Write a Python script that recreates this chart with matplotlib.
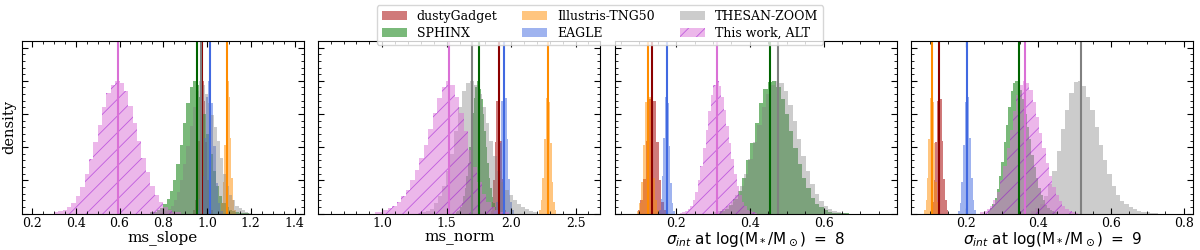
import matplotlib.pyplot as plt
import numpy as np
from matplotlib.ticker import AutoMinorLocator, MultipleLocator

plt.rcParams['font.family'] = 'DejaVu Serif'
plt.rcParams['mathtext.fontset'] = 'dejavusans'
plt.rcParams['hatch.linewidth'] = 0.6

sims = ["dustyGadget", "SPHINX", "Illustris-TNG50", "EAGLE", "THESAN-ZOOM", "This work, ALT"]
fill_cols = ['firebrick', 'forestgreen', 'darkorange', 'royalblue', 'gray', 'orchid']
line_cols = ['darkred', 'darkgreen', 'darkorange', 'royalblue', 'gray', 'orchid']
fill_alpha = [0.6, 0.6, 0.5, 0.5, 0.4, 0.5]

xlabels = ['ms_slope', 'ms_norm',
           r'$\sigma_{int}\ \mathrm{at\ log(M}_*\mathrm{/M}_\odot\mathrm{)\ =\ 8}$',
           r'$\sigma_{int}\ \mathrm{at\ log(M}_*\mathrm{/M}_\odot\mathrm{)\ =\ 9}$']
xlims = [(0.154, 1.441), (0.505, 2.69), (0.034, 0.798), (0.05, 0.826)]
major_steps = [0.2, 0.5, 0.2, 0.2]

# histograms: (low edge, high edge, bin heights normalised to peak) per simulation
# order: dustyGadget, SPHINX, Illustris-TNG50, EAGLE, THESAN-ZOOM, This work ALT
slope_hists = [
    (0.935, 1.025, [0.03, 0.10, 0.26, 0.55, 0.86, 1.00, 0.85, 0.54, 0.25, 0.09, 0.03]),
    (0.74, 1.19, [0.01, 0.015, 0.025, 0.045, 0.07, 0.11, 0.17, 0.25, 0.37, 0.52,
                  0.68, 0.83, 0.95, 1.0, 0.97, 0.88, 0.75, 0.6, 0.45, 0.32,
                  0.21, 0.13, 0.08, 0.05, 0.03, 0.018, 0.01, 0.006, 0.003, 0.002]),
    (1.059, 1.131, [0.02, 0.08, 0.24, 0.52, 0.84, 1.00, 0.88, 0.57, 0.27, 0.10, 0.03]),
    (0.952, 1.072, [0.03, 0.11, 0.28, 0.57, 0.88, 1.00, 0.83, 0.51, 0.23, 0.08, 0.02]),
    (0.78, 1.20, [0.005, 0.01, 0.02, 0.035, 0.06, 0.1, 0.16, 0.25, 0.37, 0.51,
                  0.66, 0.8, 0.92, 1.0, 0.97, 0.9, 0.83, 0.74, 0.65, 0.55,
                  0.42, 0.3, 0.21, 0.14, 0.1, 0.06, 0.04, 0.025, 0.012, 0.006]),
    (0.30, 0.88, [0.01, 0.02, 0.03, 0.05, 0.08, 0.13, 0.20, 0.30, 0.41, 0.54,
                  0.67, 0.80, 0.91, 0.97, 1.00, 0.98, 0.92, 0.81, 0.68, 0.55,
                  0.42, 0.31, 0.21, 0.14, 0.09, 0.05, 0.03, 0.015, 0.01]),
]
norm_hists = [
    (1.84, 1.96, [0.02, 0.09, 0.25, 0.54, 0.85, 1.00, 0.86, 0.55, 0.26, 0.10, 0.03]),
    (1.569, 1.921, [0.008, 0.016, 0.03, 0.05, 0.08, 0.13, 0.19, 0.28, 0.38, 0.50,
                    0.63, 0.76, 0.87, 0.95, 1.0, 0.99, 0.94, 0.86, 0.75, 0.62,
                    0.50, 0.38, 0.27, 0.19, 0.125, 0.08, 0.05, 0.028, 0.016, 0.008]),
    (2.219, 2.351, [0.03, 0.10, 0.27, 0.56, 0.87, 1.00, 0.84, 0.53, 0.24, 0.09, 0.03]),
    (1.87, 2.02, [0.02, 0.09, 0.25, 0.53, 0.85, 1.00, 0.87, 0.56, 0.26, 0.09, 0.03]),
    (1.28, 2.20, [0.005, 0.01, 0.02, 0.035, 0.08, 0.13, 0.21, 0.32, 0.45, 0.62,
                  0.8, 0.92, 0.98, 1.0, 0.97, 0.9, 0.8, 0.68, 0.55, 0.43,
                  0.32, 0.24, 0.18, 0.14, 0.1, 0.07, 0.05, 0.035, 0.02, 0.01]),
    (0.94, 1.98, [0.01, 0.015, 0.025, 0.04, 0.06, 0.09, 0.13, 0.18, 0.25, 0.33,
                  0.42, 0.52, 0.64, 0.76, 0.87, 0.95, 1.0, 0.97, 0.88, 0.76,
                  0.62, 0.48, 0.35, 0.24, 0.15, 0.09, 0.05, 0.03, 0.015, 0.008]),
]
sig8_hists = [
    (0.096, 0.174, [0.03, 0.10, 0.26, 0.55, 0.86, 1.00, 0.85, 0.54, 0.25, 0.09, 0.03]),
    (0.32, 0.67, [0.017, 0.032, 0.062, 0.11, 0.17, 0.27, 0.40, 0.53, 0.68, 0.83,
                  0.94, 0.99, 1.0, 0.95, 0.86, 0.75, 0.62, 0.49, 0.37, 0.265,
                  0.19, 0.12, 0.075, 0.046, 0.026, 0.014, 0.007, 0.004, 0.002, 0.001]),
    (0.094, 0.154, [0.02, 0.08, 0.24, 0.52, 0.84, 1.00, 0.88, 0.57, 0.27, 0.10, 0.03]),
    (0.154, 0.196, [0.03, 0.11, 0.28, 0.57, 0.88, 1.00, 0.83, 0.51, 0.23, 0.08, 0.02]),
    (0.30, 0.66, [0.009, 0.017, 0.031, 0.054, 0.089, 0.14, 0.21, 0.30, 0.41, 0.54,
                  0.67, 0.80, 0.90, 0.97, 1.0, 0.98, 0.92, 0.82, 0.70, 0.56,
                  0.43, 0.32, 0.22, 0.15, 0.097, 0.059, 0.034, 0.019, 0.01, 0.005]),
    (0.21, 0.42, [0.005, 0.01, 0.02, 0.035, 0.06, 0.1, 0.16, 0.25, 0.36, 0.49,
                  0.63, 0.77, 0.89, 0.97, 1.0, 0.96, 0.88, 0.78, 0.66, 0.53,
                  0.41, 0.3, 0.21, 0.14, 0.09, 0.055, 0.03, 0.018, 0.01, 0.005]),
]
sig9_hists = [
    (0.103, 0.151, [0.02, 0.09, 0.25, 0.54, 0.85, 1.00, 0.86, 0.55, 0.26, 0.10, 0.03]),
    (0.26, 0.45, [0.021, 0.04, 0.071, 0.117, 0.187, 0.28, 0.39, 0.54, 0.67, 0.80,
                  0.92, 0.98, 1.0, 0.975, 0.93, 0.86, 0.75, 0.65, 0.56, 0.44,
                  0.35, 0.27, 0.19, 0.14, 0.10, 0.066, 0.044, 0.028, 0.017, 0.01]),
    (0.085, 0.127, [0.03, 0.10, 0.27, 0.56, 0.87, 1.00, 0.84, 0.53, 0.24, 0.09, 0.03]),
    (0.179, 0.227, [0.02, 0.08, 0.24, 0.52, 0.84, 1.00, 0.88, 0.57, 0.27, 0.10, 0.03]),
    (0.38, 0.73, [0.019, 0.039, 0.073, 0.13, 0.22, 0.32, 0.47, 0.64, 0.78, 0.91,
                  0.99, 1.0, 0.96, 0.88, 0.78, 0.65, 0.52, 0.40, 0.30, 0.205,
                  0.14, 0.095, 0.07, 0.05, 0.035, 0.022, 0.013, 0.008, 0.004, 0.002]),
    (0.24, 0.51, [0.008, 0.017, 0.032, 0.059, 0.10, 0.16, 0.25, 0.36, 0.49, 0.63,
                  0.77, 0.89, 0.97, 1.0, 0.98, 0.93, 0.84, 0.73, 0.61, 0.49,
                  0.38, 0.28, 0.20, 0.14, 0.091, 0.057, 0.035, 0.02, 0.011, 0.006]),
]

# medians (vertical lines)
slope_med = [0.978, 0.952, 1.093, 1.012, 0.972, 0.594]
norm_med = [1.903, 1.750, 2.284, 1.945, 1.697, 1.521]
sig8_med = [0.135, 0.456, 0.124, 0.175, 0.476, 0.311]
sig9_med = [0.127, 0.346, 0.106, 0.203, 0.516, 0.364]

all_hists = [slope_hists, norm_hists, sig8_hists, sig9_hists]
all_meds = [slope_med, norm_med, sig8_med, sig9_med]

fig, axes = plt.subplots(1, 4, figsize=(12, 2.5), dpi=100)
fig.subplots_adjust(left=0.0183, right=0.9942, bottom=0.146, top=0.836, wspace=0.053)

handles = []
for i, ax in enumerate(axes):
    for j in range(6):
        lo, hi, h = all_hists[i][j]
        edges = np.linspace(lo, hi, len(h) + 1)
        if j == 5:
            art = ax.stairs(h, edges, fill=True, facecolor=fill_cols[j], edgecolor='darkviolet',
                            hatch='//', alpha=fill_alpha[j], linewidth=0)
        else:
            art = ax.stairs(h, edges, fill=True, color=fill_cols[j], alpha=fill_alpha[j], linewidth=0)
        if i == 0:
            handles.append(art)
    for j in range(6):
        ax.axvline(all_meds[i][j], color=line_cols[j], lw=1.5)

    ax.set_xlim(*xlims[i])
    ax.set_ylim(0, 1.3)
    ax.xaxis.set_major_locator(MultipleLocator(major_steps[i]))
    ax.xaxis.set_minor_locator(AutoMinorLocator())
    ax.yaxis.set_major_locator(MultipleLocator(0.25))
    ax.yaxis.set_minor_locator(AutoMinorLocator(5))
    ax.tick_params(which='both', direction='in', top=True, right=True, labelleft=False,
                   labelsize=9, pad=2.5)
    ax.tick_params(which='major', length=4)
    ax.tick_params(which='minor', length=2)
    ax.set_xlabel(xlabels[i], fontsize=11, labelpad=0)

axes[0].set_ylabel('density', fontsize=10.5, labelpad=4)

fig.legend(handles, sims, loc='upper center', bbox_to_anchor=(0.5, 1.005), ncol=3, fontsize=9,
           handlelength=2, columnspacing=2.0, borderpad=0.4, labelspacing=0.3)

plt.savefig('out.png', dpi=100)
